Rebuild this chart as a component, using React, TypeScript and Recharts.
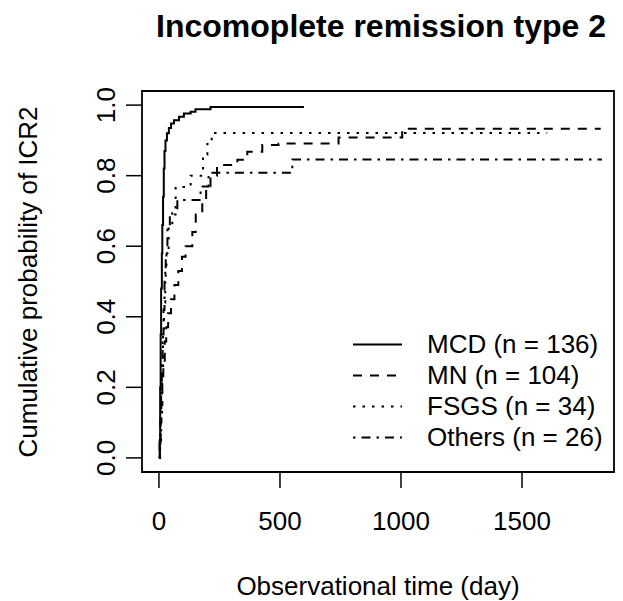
import { LineChart, Line, XAxis, YAxis, ReferenceArea } from 'recharts';

// cumulative incidence of ICR2 by group
const mcdTime = [0, 3, 5, 7, 9, 12, 14, 17, 20, 23, 27, 33, 41, 50, 62, 83, 103, 131, 151, 213, 599];
const mcdCif = [0, 0.05, 0.2, 0.35, 0.48, 0.58, 0.66, 0.74, 0.82, 0.87, 0.9, 0.92, 0.935, 0.948, 0.957, 0.967, 0.976, 0.981, 0.988, 0.995, 0.995];

const mnTime = [0, 4, 7, 10, 14, 18, 24, 30, 38, 50, 64, 80, 95, 110, 138, 152, 179, 195, 213, 240, 324, 365, 427, 494, 742, 1005, 1825];
const mnCif = [0, 0.04, 0.1, 0.15, 0.21, 0.27, 0.33, 0.37, 0.41, 0.45, 0.49, 0.53, 0.57, 0.6, 0.64, 0.69, 0.73, 0.77, 0.8, 0.83, 0.845, 0.868, 0.887, 0.891, 0.908, 0.933, 0.933];

const fsgsTime = [0, 5, 9, 13, 17, 21, 26, 31, 40, 55, 69, 131, 182, 200, 218, 1604];
const fsgsCif = [0, 0.03, 0.12, 0.24, 0.35, 0.44, 0.53, 0.59, 0.65, 0.71, 0.768, 0.8, 0.86, 0.89, 0.921, 0.921];

const othTime = [0, 3, 6, 9, 12, 15, 19, 23, 28, 35, 45, 76, 172, 205, 551, 1830];
const othCif = [0, 0.04, 0.12, 0.19, 0.27, 0.35, 0.42, 0.5, 0.58, 0.65, 0.69, 0.731, 0.769, 0.808, 0.846, 0.846];

const xTicks = [0, 500, 1000, 1500];
const yTicks = [0, 0.2, 0.4, 0.6, 0.8, 1.0];

const toRows = (t: number[], p: number[]) => t.map((v, i) => ({ t: v, p: p[i] }));

const series = [
  { name: 'MCD (n = 136)', data: toRows(mcdTime, mcdCif), dash: undefined },
  { name: 'MN (n = 104)', data: toRows(mnTime, mnCif), dash: '9 8' },
  { name: 'FSGS (n = 34)', data: toRows(fsgsTime, fsgsCif), dash: '2.5 7' },
  { name: 'Others (n = 26)', data: toRows(othTime, othCif), dash: '2.5 6 9 6' },
];

const font = '"Liberation Sans", Arial, sans-serif';

const YTick = (props: any) => {
  const { x, y, payload } = props;
  return (
    <text x={x} y={y} transform={`rotate(-90 ${x} ${y})`} textAnchor="middle" fontSize={26} fill="#000">
      {payload.value.toFixed(1)}
    </text>
  );
};

// legend sits inside the plot box, bottom right, like R's legend(bty = "n")
const LegendBox = () => (
  <div style={{ position: 'absolute', left: 353, top: 329, fontSize: 26, lineHeight: '31px', color: '#000' }}>
    {series.map((s) => (
      <div key={s.name} style={{ display: 'flex', alignItems: 'center', height: 31 }}>
        <svg width={74} height={31}>
          <line x1={0} x2={49} y1={15.5} y2={15.5} stroke="#000" strokeWidth={2} strokeDasharray={s.dash} />
        </svg>
        <span>{s.name}</span>
      </div>
    ))}
  </div>
);

export default function App() {
  return (
    <div style={{ position: 'absolute', left: 0, top: 0, width: 623, height: 601, background: '#fff', fontFamily: font }}>
      <div style={{ position: 'absolute', left: 142, width: 478, top: 7, textAlign: 'center', fontWeight: 'bold', fontSize: 32, lineHeight: '38px' }}>
        Incomoplete remission type 2
      </div>
      <div style={{ position: 'absolute', left: 142, width: 472, top: 570, textAlign: 'center', fontSize: 26, lineHeight: '32px' }}>
        Observational time (day)
      </div>
      <div style={{ position: 'absolute', left: 28 - 200, top: 282 - 16, width: 400, textAlign: 'center', fontSize: 26, lineHeight: '32px', transform: 'rotate(-90deg)' }}>
        Cumulative probability of ICR2
      </div>
      <LineChart width={623} height={601} margin={{ top: 91, right: 9, bottom: 0, left: 0 }}>
        <XAxis
          type="number"
          dataKey="t"
          domain={[-70, 1880]}
          allowDataOverflow
          ticks={xTicks}
          height={129}
          axisLine={false}
          tickSize={16}
          tickMargin={24}
          tickLine={{ stroke: '#000', strokeWidth: 1.5 }}
          tick={{ fill: '#000', fontSize: 26 }}
        />
        <YAxis
          type="number"
          dataKey="p"
          domain={[-0.04, 1.04]}
          allowDataOverflow
          ticks={yTicks}
          width={142}
          axisLine={false}
          tickSize={16}
          tickMargin={11}
          tickLine={{ stroke: '#000', strokeWidth: 1.5 }}
          tick={<YTick />}
        />
        <ReferenceArea x1={-70} x2={1880} y1={-0.04} y2={1.04} fill="none" stroke="#000" strokeWidth={1.8} />
        {series.map((s) => (
          <Line
            key={s.name}
            data={s.data}
            dataKey="p"
            name={s.name}
            type="stepAfter"
            stroke="#000"
            strokeWidth={2}
            strokeDasharray={s.dash}
            dot={false}
            activeDot={false}
            isAnimationActive={false}
          />
        ))}
      </LineChart>
      <LegendBox />
    </div>
  );
}
